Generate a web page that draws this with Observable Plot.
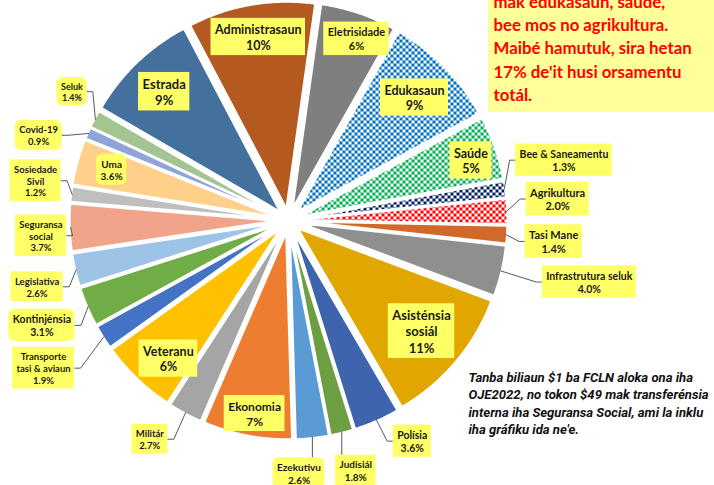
<!DOCTYPE html>
<html><head><meta charset="utf-8">
<script src="https://cdn.jsdelivr.net/npm/d3@7"></script>
<script src="https://cdn.jsdelivr.net/npm/@observablehq/plot@0.6"></script>
<style>html,body{margin:0;padding:0;background:#fff;overflow:hidden}</style>
</head><body><div id="chart"></div>
<script>
// ---------- DATA ----------
const categories = ["Eletrisidade","Edukasaun","Saúde","Bee & Saneamentu","Agrikultura","Tasi Mane","Infrastrutura seluk","Asisténsia sosiál","Polísia","Judisiál","Ezekutivu","Ekonomia","Militár","Veteranu","Transporte tasi & aviaun","Kontinjénsia","Legislativa","Seguransa social","Sosiedade Sivíl","Uma","Covid-19","Seluk","Estrada","Administrasaun"];
const shares = [6, 9, 5, 1.3, 2.0, 1.4, 4.0, 11, 3.6, 1.8, 2.6, 7, 2.7, 6, 1.9, 3.1, 2.6, 3.7, 1.2, 3.6, 0.9, 1.4, 9, 10];
const shareText = ["6%","9%","5%","1.3%","2.0%","1.4%","4.0%","11%","3.6%","1.8%","2.6%","7%","2.7%","6%","1.9%","3.1%","2.6%","3.7%","1.2%","3.6%","0.9%","1.4%","9%","10%"];
const labelNames = ["Eletrisidade","Edukasaun","Saúde","Bee & Saneamentu","Agrikultura","Tasi Mane","Infrastrutura seluk","Asisténsia\nsosiál","Polísia","Judisiál","Ezekutivu","Ekonomia","Militár","Veteranu","Transporte\ntasi & aviaun","Kontinjénsia","Legislativa","Seguransa\nsocial","Sosiedade\nSivíl","Uma","Covid-19","Seluk","Estrada","Administrasaun"];
const noteLines = ["mak edukasaun, saúde,","bee mos no agrikultura.","Maibé hamutuk, sira hetan","17% de'it husi orsamentu","totál."];
const footnoteLines = ["Tanba biliaun $1 ba FCLN aloka ona iha","OJE2022, no tokon $49 mak transferénsia","interna iha Seguransa Social, ami la inklu","iha gráfiku ida ne'e."];

// ---------- STYLE / LAYOUT ----------
const sliceFills = ["#7f7f7f","url(#pEdu)","url(#pSau)","url(#pBee)","url(#pAgr)","#d2692a","#8f8f8f","#e2a600","#3e64ad","#6e9e42","#5b9bd5","#ed7d31","#a5a5a5","#ffc000","#4472c4","#70ad47","#9dc3e6","#f0a58a","#bfbfbf","#ffd08a","#8fa5d8","#a2c591","#44709d","#b4591f"];
const patterns = [["pEdu","#0070c0"],["pSau","#00b050"],["pBee","#002060"],["pAgr","#ff0000"]];
// [radius, angle nudge (deg), font size, kind, rounded]
const labelLayout = {
  "Eletrisidade":[194,1.8,11,"in",0], "Edukasaun":[176,0.2,12.5,"in",0], "Saúde":[192,1.3,12.5,"in",0],
  "Bee & Saneamentu":[282,-4.1,10.5,"right",0], "Agrikultura":[270,-2.2,11,"right",0], "Tasi Mane":[266,0.8,11,"right",0],
  "Infrastrutura seluk":[307,-1.8,10.5,"right",0], "Asisténsia sosiál":[173,-0.4,13,"in",0], "Polísia":[253,-5.5,10.5,"right",0],
  "Judisiál":[259,-0.9,10,"bottom",0], "Ezekutivu":[253,3.9,10,"bottom",1], "Ekonomia":[196,-0.9,12,"in",0],
  "Militár":[259,4.2,9.5,"left",0], "Veteranu":[183,-2.7,12.5,"in",0], "Transporte tasi & aviaun":[286,1.1,9.5,"left",0],
  "Kontinjénsia":[268,0.2,10.5,"left",1], "Legislativa":[260,-1.7,9.5,"left",0], "Seguransa social":[248,-1.7,9.5,"left",0],
  "Sosiedade Sivíl":[256,2,9.5,"left",0], "Uma":[184,0.5,10,"in",1], "Covid-19":[264,-4.7,9.5,"left",1],
  "Seluk":[252,3.1,9,"left",1], "Estrada":[179,-0.2,13,"in",0], "Administrasaun":[186,0.5,12.5,"in",0]
};
const W = 714, H = 485, CX = 288, CY = 220, R = 207, EXPLODE = 12;
const THETA0 = 8 * Math.PI / 180;
const FONT = "Lato, 'Open Sans', sans-serif";
const LH = 1.25, PADX = 4, PADY = 3;

// ---------- GEOMETRY ----------
const polar = (r, a) => [r * Math.sin(a), -r * Math.cos(a)];
const arcs = d3.pie().sort(null).value(d => d).startAngle(THETA0).endAngle(THETA0 + 2 * Math.PI)(shares);

const slicePts = [];
arcs.forEach((arc, i) => {
  const m = (arc.startAngle + arc.endAngle) / 2;
  const [ox, oy] = polar(EXPLODE, m);
  slicePts.push({name: categories[i], x: ox, y: oy});
  const n = Math.max(2, Math.ceil((arc.endAngle - arc.startAngle) / (Math.PI / 360)));
  for (let k = 0; k <= n; k++) {
    const a = arc.startAngle + (arc.endAngle - arc.startAngle) * k / n;
    const [px, py] = polar(R, a);
    slicePts.push({name: categories[i], x: ox + px, y: oy + py});
  }
});

const ctx = document.createElement("canvas").getContext("2d");
const labels = [], leaderPts = [];
arcs.forEach((arc, i) => {
  const [r, da, fs, kind, round] = labelLayout[categories[i]];
  const m = (arc.startAngle + arc.endAngle) / 2;
  const [lx, ly] = polar(r, m + da * Math.PI / 180);
  const text = labelNames[i] + "\n" + shareText[i];
  const lines = text.split("\n");
  ctx.font = `bold ${fs}px ${FONT}`;
  const tw = d3.max(lines, s => ctx.measureText(s).width);
  const bw = tw + 2 * PADX, bh = lines.length * fs * LH + 2 * PADY;
  const lab = {name: categories[i], text, fs, lx, ly, x1: lx - bw / 2, x2: lx + bw / 2, y1: ly - bh / 2, y2: ly + bh / 2, round};
  labels.push(lab);
  if (kind !== "in") {
    const [sx, sy] = polar(R + EXPLODE - 1, m);
    let pts;
    if (kind === "right") pts = [[sx, sy], [lab.x1 - 6, ly], [lab.x1, ly]];
    else if (kind === "left") pts = [[sx, sy], [lab.x2 + 6, ly], [lab.x2, ly]];
    else pts = [[sx, sy], [sx, lab.y1]];
    pts.forEach(([x, y]) => leaderPts.push({name: categories[i], x, y}));
  }
});

const note = [{x1: 488 - CX, x2: W - CX + 2, y1: -CY - 2, y2: 112 - CY}];
const noteText = [{x: 493 - CX, y: -9 - CY, text: noteLines.join("\n")}];
const footText = [{x: 468 - CX, y: 369 - CY, text: footnoteLines.join("\n")}];

const defsMark = () => {
  const g = document.createElementNS("http://www.w3.org/2000/svg", "g");
  g.innerHTML = "<defs>" + patterns.map(([id, c]) =>
    `<pattern id="${id}" width="6" height="6" patternUnits="userSpaceOnUse"><rect width="6" height="6" fill="white"/><rect width="3" height="3" fill="${c}"/><rect x="3" y="3" width="3" height="3" fill="${c}"/></pattern>`).join("") + "</defs>";
  return g;
};

const chart = Plot.plot({
  width: W, height: H, margin: 0,
  x: {domain: [-CX, W - CX], range: [0, W], axis: null},
  y: {domain: [-CY, H - CY], range: [0, H], axis: null},
  color: {domain: categories, range: sliceFills},
  style: {fontFamily: FONT, background: "white", overflow: "hidden"},
  marks: [
    defsMark,
    Plot.rect(note, {x1: "x1", x2: "x2", y1: "y1", y2: "y2", fill: "#ffff99"}),
    Plot.line(slicePts, {x: "x", y: "y", z: "name", fill: "name", stroke: "white", strokeWidth: 2.2, curve: "linear-closed"}),
    Plot.line(leaderPts, {x: "x", y: "y", z: "name", stroke: "#595959", strokeWidth: 1}),
    Plot.rect(labels.filter(d => !d.round), {x1: "x1", x2: "x2", y1: "y1", y2: "y2", fill: "#ffff66"}),
    Plot.rect(labels.filter(d => d.round), {x1: "x1", x2: "x2", y1: "y1", y2: "y2", fill: "#ffff66", rx: 6}),
    Plot.text(labels, {x: "lx", y: "ly", text: "text", fontSize: "fs", fontWeight: "bold", fill: "#1a1a1a", lineHeight: LH}),
    Plot.text(noteText, {x: "x", y: "y", text: "text", fontSize: 16.8, fontWeight: "bold", fill: "#ff0000", textAnchor: "start", lineAnchor: "top", lineHeight: 1.38}),
    Plot.text(footText, {x: "x", y: "y", text: "text", fontFamily: "Roboto, sans-serif", fontSize: 13.1, fontWeight: "bold", fontStyle: "italic", fill: "#111", textAnchor: "start", lineAnchor: "top", lineHeight: 1.33})
  ]
});
document.getElementById("chart").appendChild(chart);
</script></body></html>
